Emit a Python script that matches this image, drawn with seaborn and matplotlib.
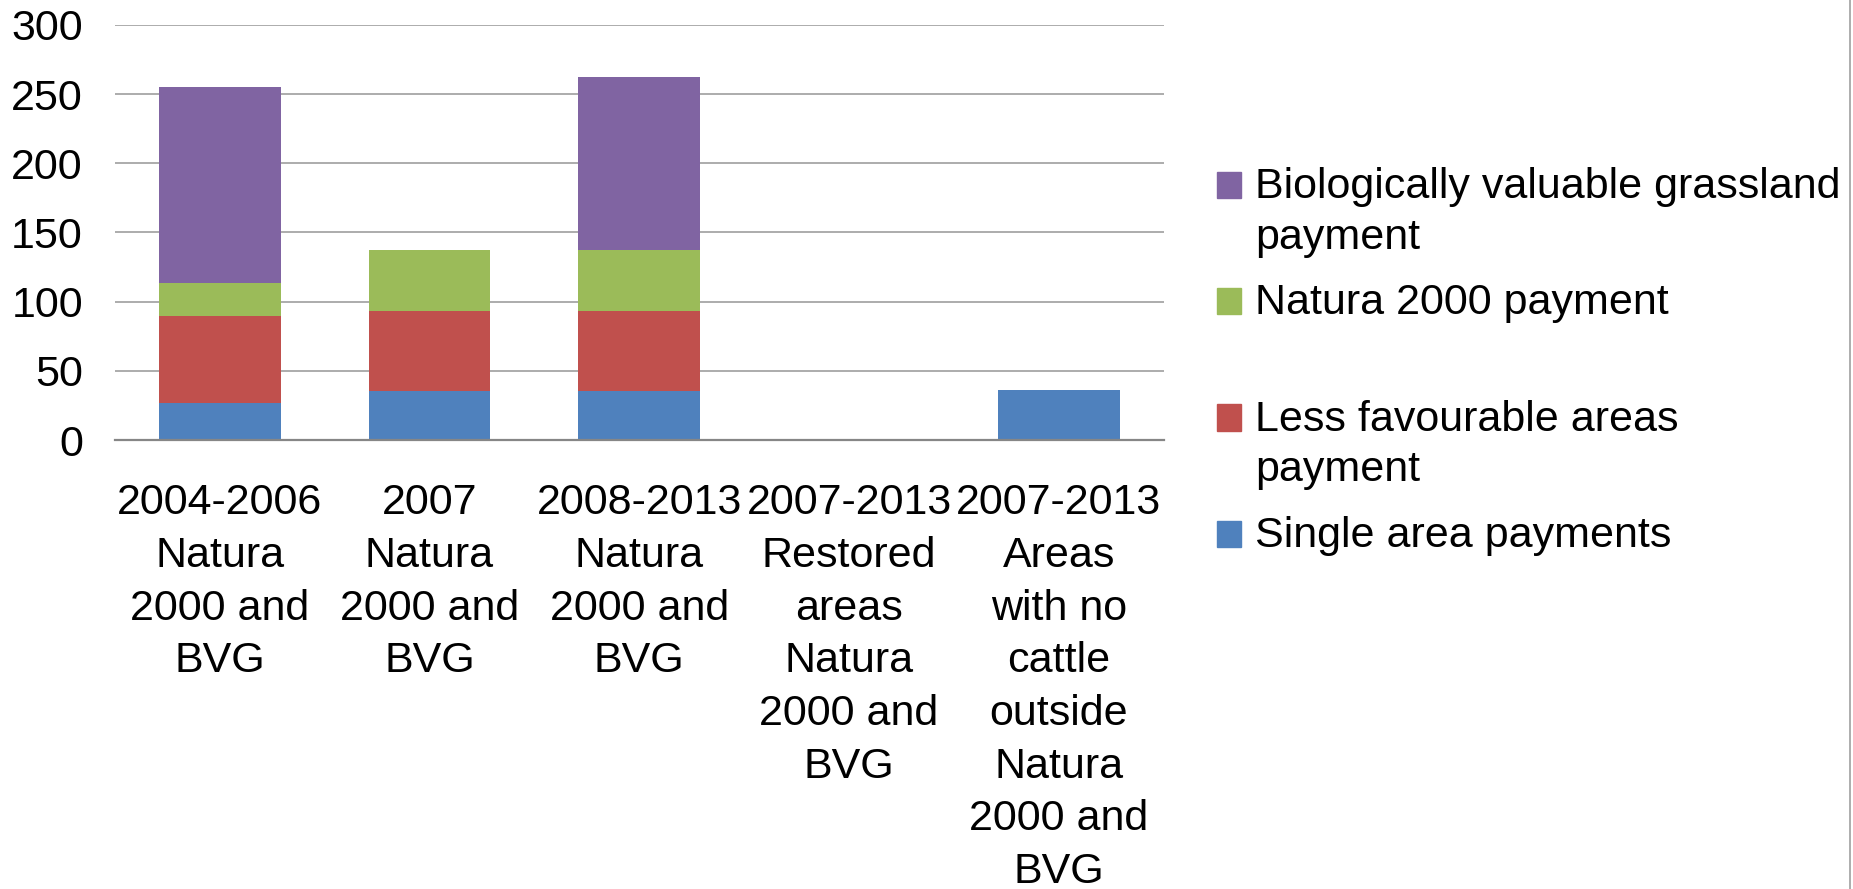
import seaborn as sns
import matplotlib.pyplot as plt
import pandas as pd
from matplotlib.patches import Patch, Rectangle
from matplotlib.legend_handler import HandlerPatch
from matplotlib.lines import Line2D

# data
categories = [
    "2004-2006\nNatura\n2000 and\nBVG",
    "2007\nNatura\n2000 and\nBVG",
    "2008-2013\nNatura\n2000 and\nBVG",
    "2007-2013\nRestored\nareas\nNatura\n2000 and\nBVG",
    "2007-2013\nAreas\nwith no\ncattle\noutside\nNatura\n2000 and\nBVG",
]
single_area = [26.7, 35.4, 35.4, 0, 36.2]
less_favourable = [63.2, 57.9, 57.9, 0, 0]
natura_2000 = [23.6, 44.1, 44.1, 0, 0]
bvg = [141.7, 0, 125.1, 0, 0]

series_names = [
    "Single area payments",
    "Less favourable areas payment",
    "Natura 2000 payment",
    "Biologically valuable grassland payment",
]
legend_labels = [
    "Biologically valuable grassland\npayment",
    "Natura 2000 payment\n ",
    "Less favourable areas\npayment",
    "Single area payments\n ",
]
colors = ["#4F81BD", "#C0504D", "#9BBB59", "#8064A2"]

df = pd.DataFrame({
    "category": categories,
    series_names[0]: single_area,
    series_names[1]: less_favourable,
    series_names[2]: natura_2000,
    series_names[3]: bvg,
})

sns.set_style("white")
plt.rcParams["font.family"] = ["Liberation Sans", "DejaVu Sans"]
FS = 31

fig = plt.figure(figsize=(18.53, 8.89), dpi=100)
ax = fig.add_axes([0.062, 0.505, 0.566, 0.467])

# stacked bars: draw cumulative totals from the top layer down
cum = df[series_names].cumsum(axis=1)
for name, col in reversed(list(zip(series_names, colors))):
    sns.barplot(data=cum.assign(category=df["category"]), x="category", y=name,
                color=col, saturation=1, width=0.58, errorbar=None,
                linewidth=0, ax=ax)

ax.set_ylim(0, 300)
ax.set_yticks(range(0, 301, 50))
ax.set_xlabel("")
ax.set_ylabel("")
ax.yaxis.grid(True, color="#a6a6a6", lw=1.3)
ax.set_axisbelow(True)
for s in ["top", "right", "left"]:
    ax.spines[s].set_visible(False)
ax.spines["bottom"].set_color("#868686")
ax.spines["bottom"].set_linewidth(1.6)
ax.tick_params(axis="y", length=0, pad=23, labelsize=FS, labelcolor="black")
ax.tick_params(axis="x", length=0, pad=31, labelsize=FS, labelcolor="black")
for t in ax.get_xticklabels():
    t.set_linespacing(1.41)
    t.set_ha("center")


def top_square(legend, orig_handle, xdescent, ydescent, width, height, fontsize):
    # put the square next to the first line of the label
    return Rectangle((-xdescent, -ydescent + 20), width, height)


handles = [Patch(color=c) for c in reversed(colors)]
leg = fig.legend(handles, legend_labels, loc="upper left",
                 bbox_to_anchor=(1217 / 1853, 1 - 167 / 889),
                 frameon=False, fontsize=FS, borderpad=0, borderaxespad=0,
                 handlelength=0.56, handleheight=0.56, handletextpad=0.33,
                 labelspacing=0.6,
                 handler_map={Patch: HandlerPatch(patch_func=top_square)})
for t in leg.get_texts():
    t.set_linespacing(1.34)
    t.set_color("black")

# chart border on the right edge
fig.add_artist(Line2D([0.9985, 0.9985], [0, 1], color="#a0a0a0", lw=1.2))

fig.savefig("out.png", dpi=100)
